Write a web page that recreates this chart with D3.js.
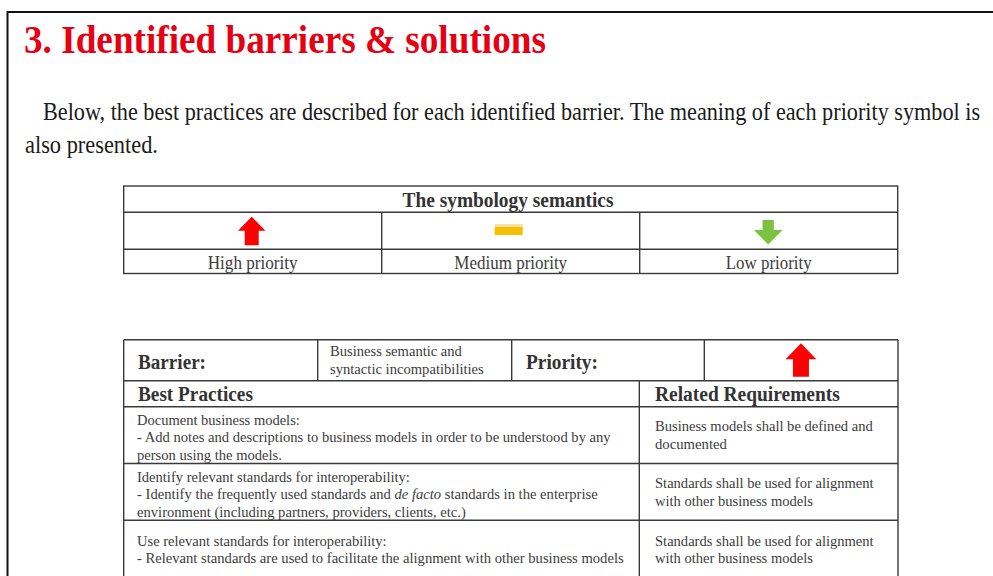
<!DOCTYPE html>
<html>
<head>
<meta charset="utf-8">
<script src="https://cdn.jsdelivr.net/npm/d3@7"></script>
<style>
  html, body { margin: 0; padding: 0; background: #fff; }
  svg { display: block; }
</style>
</head>
<body>
<svg id="chart" width="993" height="576"></svg>
<script>
// ---------- data ----------
const headingText = ["3. Identified barriers & solutions"];
const introLines = [
  "Below, the best practices are described for each identified barrier. The meaning of each priority symbol is",
  "also presented."
];
const symbologyTitle = ["The symbology semantics"];
const priorityLevels = ["high", "medium", "low"];
const priorityLabels = ["High priority", "Medium priority", "Low priority"];
const barrierLabels = ["Barrier:", "Priority:"];
const barrierName = ["Business semantic and", "syntactic incompatibilities"];
const barrierPriority = ["high"];
const columnHeaders = ["Best Practices", "Related Requirements"];
const practiceTitles = [
  "Document business models:",
  "Identify relevant standards for interoperability:",
  "Use relevant standards for interoperability:"
];
const practiceDetails = [
  [["- Add notes and descriptions to business models in order to be understood by any"], ["person using the models."]],
  [["- Identify the frequently used standards and ", "de facto", " standards in the enterprise"], ["environment (including partners, providers, clients, etc.)"]],
  [["- Relevant standards are used to facilitate the alignment with other business models"]]
];
const requirementLines = [
  ["Business models shall be defined and", "documented"],
  ["Standards shall be used for alignment", "with other business models"],
  ["Standards shall be used for alignment", "with other business models"]
];

// ---------- layout ----------
const svg = d3.select("#chart");
const FONT = "'Liberation Serif', 'Times New Roman', Times, serif";
const lineCol = "#3a3a3a";
const textCol = "#333";

// page frame
svg.append("path").attr("d", "M7.5,576 V12 H993").attr("fill", "none")
  .attr("stroke", "#111").attr("stroke-width", 2);

// text helper: fits the natural text to a measured width with a horizontal scale
function addText(g, str, x, y, opts) {
  const t = g.append("text").attr("x", 0).attr("y", 0)
    .attr("font-family", FONT)
    .attr("font-size", opts.size)
    .attr("font-weight", opts.bold ? "bold" : "normal")
    .attr("fill", opts.fill || textCol)
    .attr("text-anchor", opts.anchor || "start");
  if (Array.isArray(str)) {
    str.forEach((s, i) => t.append("tspan").text(s).attr("font-style", i === 1 ? "italic" : null));
  } else t.text(str);
  let k = 1;
  if (opts.len) {
    const w = t.node().getComputedTextLength();
    if (w > 0) k = opts.len / w;
  }
  t.attr("transform", `translate(${x},${y}) scale(${k},1)`);
  return t;
}

// heading
addText(svg, headingText[0], 24, 53, {size: 39, bold: true, fill: "#e60012", len: 522});
// intro paragraph
const introX = [43, 25], introY = [120, 153], introW = [938, 133];
introLines.forEach((s, i) => addText(svg, s, introX[i], introY[i], {size: 24.5, fill: "#1a1a1a", len: introW[i]}));

// arrow / symbol drawing
const symbolColor = d3.scaleOrdinal().domain(priorityLevels).range(["#ff0000", "#f6c000", "#7cc242"]);
function drawSymbol(g, level, cx, top, bottom, headW, shaftW, headH) {
  if (level === "high") {
    g.append("path").attr("fill", symbolColor(level)).attr("d",
      `M${cx},${top} L${cx + headW / 2},${top + headH} L${cx + shaftW / 2},${top + headH} L${cx + shaftW / 2},${bottom}` +
      ` L${cx - shaftW / 2},${bottom} L${cx - shaftW / 2},${top + headH} L${cx - headW / 2},${top + headH} Z`);
  } else if (level === "low") {
    g.append("path").attr("fill", symbolColor(level)).attr("d",
      `M${cx},${bottom} L${cx + headW / 2},${bottom - headH} L${cx + shaftW / 2},${bottom - headH} L${cx + shaftW / 2},${top}` +
      ` L${cx - shaftW / 2},${top} L${cx - shaftW / 2},${bottom - headH} L${cx - headW / 2},${bottom - headH} Z`);
  } else {
    g.append("rect").attr("x", cx - 14).attr("y", top).attr("width", 28).attr("height", 3).attr("fill", "#f7e3a6");
    g.append("rect").attr("x", cx - 14).attr("y", top + 3).attr("width", 28).attr("height", bottom - top - 3).attr("fill", symbolColor(level));
  }
}

// ---------- symbology table ----------
const sym = svg.append("g");
const symX = d3.scaleBand().domain(priorityLevels).range([123.7, 897.7]);
const symRows = [186, 212.3, 249.3, 273.5];
sym.append("rect").attr("x", symX.range()[0]).attr("y", symRows[0])
  .attr("width", symX.range()[1] - symX.range()[0]).attr("height", symRows[3] - symRows[0])
  .attr("fill", "none").attr("stroke", lineCol).attr("stroke-width", 1.4);
[symRows[1], symRows[2]].forEach(y => sym.append("line").attr("x1", symX.range()[0]).attr("x2", symX.range()[1])
  .attr("y1", y).attr("y2", y).attr("stroke", lineCol).attr("stroke-width", 1.4));
priorityLevels.slice(1).forEach(l => sym.append("line").attr("x1", symX(l)).attr("x2", symX(l))
  .attr("y1", symRows[1]).attr("y2", symRows[3]).attr("stroke", lineCol).attr("stroke-width", 1.4));
addText(sym, symbologyTitle[0], 508, 207, {size: 20, bold: true, anchor: "middle", len: 211});
const labelW = [90, 113, 86];
priorityLevels.forEach((l, i) => {
  const cx = symX(l) + symX.bandwidth() / 2;
  addText(sym, priorityLabels[i], cx, 268.5, {size: 19, anchor: "middle", fill: "#3c3c3c", len: labelW[i]});
});
drawSymbol(sym, "high", symX("high") + symX.bandwidth() / 2 - 1, 216.7, 245.3, 27.5, 14, 14);
drawSymbol(sym, "medium", symX("medium") + symX.bandwidth() / 2 - 2, 224, 235, 0, 0, 0);
drawSymbol(sym, "low", symX("low") + symX.bandwidth() / 2 - 0.5, 220, 244.5, 28.7, 11.3, 14.5);

// ---------- barrier table ----------
const bt = svg.append("g");
const left = 123.7, right = 898;
const topRowX = [left, 317.7, 511.7, 704.3, right];
const yTop = 339.7, yHead = 380.7, yBody = 406.8;
const rowY = d3.scaleBand().domain(d3.range(practiceTitles.length)).range([yBody, yBody + 3 * 56.7]);
const splitX = 639.3;
const L = (x1, y1, x2, y2) => bt.append("line").attr("x1", x1).attr("y1", y1).attr("x2", x2).attr("y2", y2)
  .attr("stroke", lineCol).attr("stroke-width", 1.4);
L(left, yTop, right, yTop);
L(left, yTop, left, 576); L(right, yTop, right, 576);
L(left, yHead, right, yHead);
topRowX.slice(1, 4).forEach(x => L(x, yTop, x, yHead));
L(splitX, yHead, splitX, 576);
d3.range(practiceTitles.length).forEach(i => L(left, rowY(i), right, rowY(i)));

addText(bt, barrierLabels[0], 138, 368.5, {size: 20.5, bold: true, len: 68});
addText(bt, barrierLabels[1], 526, 368.5, {size: 20.5, bold: true, len: 72});
const bnW = [132, 154];
barrierName.forEach((s, i) => addText(bt, s, 330, 356 + i * 18, {size: 15, fill: "#3c3c3c", len: bnW[i]}));
drawSymbol(bt, barrierPriority[0], (topRowX[3] + topRowX[4]) / 2 - 0.2, 343.3, 376.7, 30.7, 16, 16);

addText(bt, columnHeaders[0], 138, 401, {size: 20.5, bold: true, len: 115});
addText(bt, columnHeaders[1], 655, 401, {size: 20.5, bold: true, len: 185});

const titleW = [163, 273, 250];
const detailW = [[474, 145], [461, 329], [487]];
const reqW = [[218, 72], [219, 158], [219, 158]];
const firstBase = [424.5, 481.5, 545.5];
const reqBase = [431, 488, 545.5];
practiceTitles.forEach((t, i) => {
  addText(bt, t, 137, firstBase[i], {size: 15, fill: "#3c3c3c", len: titleW[i]});
  practiceDetails[i].forEach((ln, j) => addText(bt, ln.length > 1 ? ln : ln[0], 137, firstBase[i] + 17.5 * (j + 1),
    {size: 15, fill: "#3c3c3c", len: detailW[i][j]}));
  requirementLines[i].forEach((ln, j) => addText(bt, ln, 655, reqBase[i] + 17.5 * j,
    {size: 15, fill: "#3c3c3c", len: reqW[i][j]}));
});
</script>
</body>
</html>
